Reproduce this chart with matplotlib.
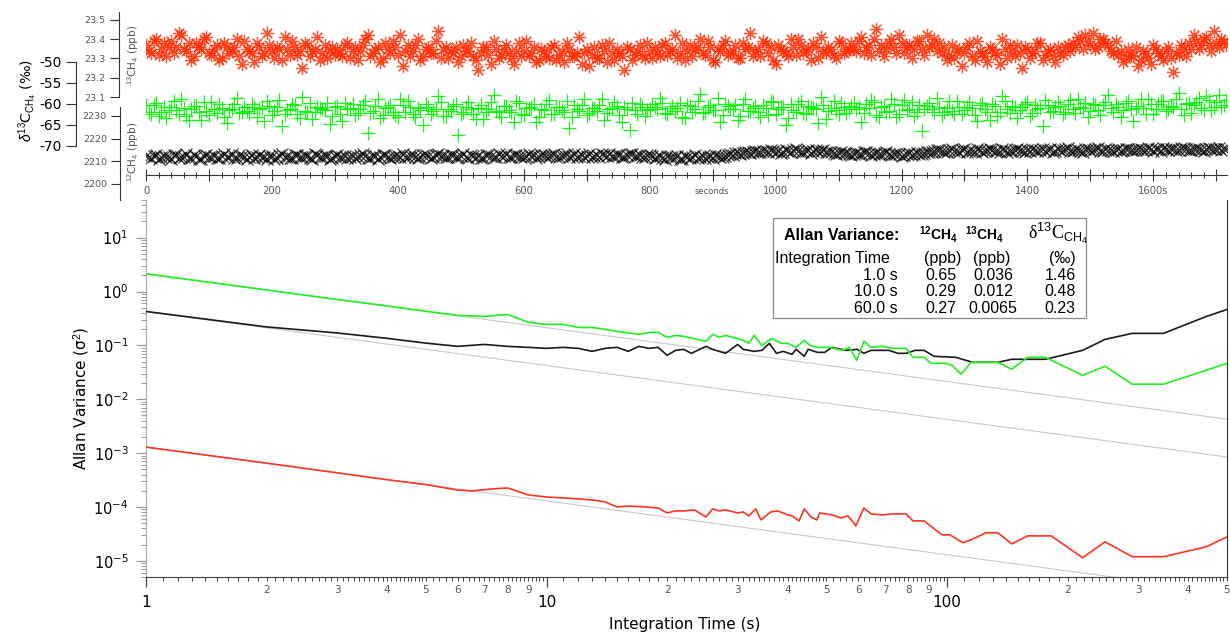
import numpy as np
import matplotlib
matplotlib.use("Agg")
import matplotlib.pyplot as plt
from matplotlib.ticker import FixedLocator, FuncFormatter, LogLocator, MultipleLocator
from matplotlib.patches import Rectangle

W, H = 1230, 636

# ---- time series (sampled every 4 s) ----
T_STEP = 4
c13_ppb = [
    23.37, 23.34, 23.33, 23.39, 23.40, 23.32, 23.35, 23.38, 23.31, 23.36, 23.39, 23.33, 23.36, 23.43,
    23.42, 23.35, 23.34, 23.38, 23.29, 23.31, 23.38, 23.36, 23.35, 23.40, 23.41, 23.33,
    23.32, 23.35, 23.37, 23.29, 23.30, 23.38, 23.36, 23.33, 23.34, 23.36, 23.40, 23.31, 23.27, 23.39,
    23.35, 23.34, 23.33, 23.28, 23.38, 23.36, 23.31, 23.33, 23.43, 23.37, 23.34, 23.30, 23.36, 23.35,
    23.29, 23.41, 23.35, 23.32, 23.39, 23.36, 23.32, 23.34, 23.25, 23.38, 23.37, 23.31, 23.34, 23.35,
    23.41, 23.29, 23.33, 23.37, 23.30, 23.34, 23.36, 23.32,
    23.35, 23.33, 23.31, 23.37, 23.38, 23.30, 23.34, 23.36, 23.29, 23.34, 23.37, 23.40, 23.42, 23.31,
    23.33, 23.35, 23.36, 23.28, 23.30, 23.38, 23.35, 23.33, 23.39, 23.36, 23.32, 23.42, 23.26, 23.34,
    23.37, 23.31, 23.34, 23.37, 23.40, 23.29, 23.31, 23.35, 23.36, 23.33, 23.33, 23.39, 23.44, 23.30,
    23.35, 23.36, 23.30, 23.34,
    23.33, 23.36, 23.28, 23.31, 23.37, 23.34, 23.34, 23.38, 23.31, 23.29, 23.24, 23.33, 23.36, 23.36,
    23.32, 23.27, 23.39, 23.35, 23.30, 23.32, 23.35, 23.37, 23.33, 23.30, 23.27, 23.34, 23.38, 23.31,
    23.34, 23.39, 23.31, 23.33, 23.36, 23.28, 23.29, 23.35,
    23.34, 23.31, 23.30, 23.36, 23.37, 23.29, 23.32, 23.34, 23.28, 23.38, 23.35, 23.31, 23.31, 23.33,
    23.41, 23.27, 23.33, 23.35, 23.26, 23.32, 23.36, 23.30, 23.30, 23.37, 23.34, 23.28, 23.38, 23.33,
    23.29, 23.35, 23.33, 23.31, 23.24, 23.36, 23.35, 23.29, 23.32, 23.34, 23.37, 23.32, 23.30, 23.38,
    23.34, 23.30,
    23.36, 23.33, 23.31, 23.37, 23.38, 23.32, 23.34, 23.35, 23.42, 23.30, 23.33, 23.38, 23.29, 23.34,
    23.37, 23.31, 23.35, 23.36, 23.40, 23.33, 23.32, 23.39, 23.36, 23.29, 23.28, 23.35, 23.34, 23.37,
    23.39, 23.32, 23.33, 23.34, 23.37, 23.30, 23.30, 23.38, 23.35, 23.36, 23.43, 23.31, 23.34, 23.35,
    23.31, 23.39, 23.38, 23.33, 23.36, 23.29, 23.27, 23.37, 23.35, 23.34, 23.33, 23.31, 23.40, 23.36,
    23.32, 23.40, 23.37, 23.33, 23.34, 23.35, 23.29, 23.38, 23.36, 23.30, 23.41, 23.34, 23.33, 23.36,
    23.35, 23.32, 23.30, 23.39, 23.38, 23.33, 23.34, 23.35,
    23.38, 23.35, 23.34, 23.39, 23.41, 23.33, 23.36, 23.37, 23.32, 23.40, 23.45, 23.34, 23.37, 23.31,
    23.35, 23.38, 23.40, 23.36, 23.33, 23.42, 23.38, 23.33, 23.36, 23.37, 23.30, 23.35, 23.39, 23.39,
    23.35, 23.32, 23.42, 23.36, 23.37, 23.40, 23.34, 23.38,
    23.33, 23.36, 23.29, 23.32, 23.37, 23.30, 23.34, 23.35, 23.26, 23.33, 23.36, 23.38, 23.31, 23.29,
    23.39, 23.34, 23.33, 23.31, 23.28, 23.36, 23.35, 23.33, 23.32, 23.27, 23.40, 23.35, 23.30, 23.37,
    23.34, 23.31, 23.37, 23.33, 23.25, 23.36, 23.35, 23.30, 23.33, 23.34, 23.38, 23.38, 23.29, 23.32,
    23.34, 23.35, 23.31, 23.28, 23.36, 23.33, 23.32, 23.36, 23.37, 23.34,
    23.38, 23.36, 23.41, 23.39, 23.35, 23.42, 23.39, 23.37, 23.43, 23.35, 23.36, 23.40, 23.40, 23.38,
    23.37, 23.34, 23.33, 23.39,
    23.32, 23.34, 23.28, 23.30, 23.35, 23.32, 23.31, 23.36, 23.26, 23.29, 23.34, 23.33, 23.30, 23.27,
    23.37, 23.35, 23.33, 23.31, 23.29, 23.34, 23.36, 23.30, 23.23, 23.33, 23.32, 23.37, 23.35, 23.31,
    23.38, 23.35, 23.42, 23.39, 23.35, 23.37, 23.40, 23.41, 23.37, 23.34, 23.44, 23.38, 23.36, 23.40,
    23.39, 23.37]

d13c_permil = [
    -60.2, -61.8, -62.5, -60.3, -59.8, -62.9, -61.9, -60.6, -63.4, -61.4, -60.7, -59.2, -61.5, -62.3,
    -58.9, -61.0, -62.8, -63.7, -61.1, -60.5, -60.4, -61.9, -63.9, -59.6, -61.7, -62.6, -59.5, -61.2,
    -62.2, -60.1, -60.9, -63.0, -64.6, -61.5, -61.3, -59.9, -58.6, -62.1, -62.0, -60.8,
    -61.6, -62.2, -60.1, -60.7, -63.1, -61.3, -61.0, -64.0, -59.3, -60.4, -62.7, -61.7, -60.6, -59.0,
    -65.2, -62.5, -61.4, -61.1, -60.0, -60.2, -62.4, -63.3, -58.4, -61.6, -61.8, -59.7, -63.5, -62.0,
    -60.8, -60.9, -61.2, -61.4, -59.7, -64.8, -62.9, -60.6, -60.5, -62.4, -64.1, -59.8,
    -61.3, -60.9, -59.9, -62.7, -62.1, -61.2, -60.3, -59.4, -66.8, -62.2, -61.6, -60.5, -58.8, -63.4,
    -62.6, -61.0, -60.7, -60.3, -61.9, -62.6, -63.2, -58.9, -60.2, -61.8, -59.4, -60.7, -62.3, -63.1,
    -61.0, -61.5, -64.9, -60.0, -60.6, -62.3, -61.7, -61.1, -58.2, -59.6, -62.8, -62.9,
    -61.1, -61.7, -60.4, -59.9, -67.3, -62.4, -61.8, -60.8, -59.6, -61.3, -62.5, -63.5, -60.9, -60.2,
    -63.6, -62.0, -61.2, -59.5, -57.9, -61.6, -62.0, -63.0, -60.5, -60.4, -61.4, -61.9, -64.3, -59.2,
    -59.8, -62.5, -62.7, -61.0, -61.0, -60.6, -60.1, -64.4, -63.0, -61.2, -61.5, -60.0,
    -59.1, -62.3, -62.4, -60.6, -60.8, -61.4, -61.9, -59.4, -65.6, -63.2, -60.3, -61.1, -61.6, -60.2,
    -58.7, -62.7, -62.2, -60.9, -61.0, -61.7, -60.2, -58.8, -63.8, -62.1, -61.3, -61.0, -59.5, -60.5,
    -62.6, -64.2, -60.7, -61.3, -66.1, -59.8, -61.4, -62.4, -60.0, -60.7, -62.9, -61.5, -61.2, -60.1,
    -60.6, -61.3, -58.5, -59.7, -62.1, -62.4, -60.9, -60.5, -61.7, -61.0, -59.8, -63.1, -63.3, -60.2,
    -60.4, -61.8, -61.2, -59.3, -57.6, -62.2, -62.0, -60.8, -60.3, -61.5, -61.5, -58.6, -64.2, -62.7,
    -59.9, -60.4, -61.1, -61.2, -60.2, -63.8, -62.8, -60.0, -58.9, -61.6, -61.6, -60.9,
    -60.5, -61.9, -63.0, -60.2, -61.0, -62.6, -59.4, -59.6, -62.3, -61.1, -60.8, -60.7, -65.0, -63.3,
    -60.1, -61.4, -61.8, -59.9, -59.2, -62.1, -62.5, -60.5, -60.6, -61.0, -61.3, -64.6, -58.3, -60.3,
    -63.6, -61.7, -60.9, -59.2, -61.5, -62.4, -59.7, -60.8, -62.2, -61.3, -60.4, -59.8,
    -61.1, -60.6, -64.4, -62.2, -60.0, -61.0, -59.1, -59.5, -62.6, -63.0, -60.7, -60.4, -61.9, -61.6,
    -58.8, -60.0, -63.1, -62.5, -60.2, -59.1, -61.4, -61.3, -59.6, -62.8, -62.0, -60.2, -66.4, -61.1,
    -60.5, -59.7, -61.2, -62.0, -58.6, -60.7, -62.7, -61.8, -60.9, -59.4, -61.6, -62.3,
    -59.3, -60.8, -62.4, -61.5, -60.6, -59.6, -61.0, -62.6, -64.0, -60.2, -59.8, -61.1, -61.8, -63.7,
    -60.1, -60.5, -62.9, -61.9, -58.1, -59.3, -61.3, -62.2, -60.4, -60.7, -63.4, -61.4, -60.8, -59.9,
    -59.5, -62.8, -62.1, -60.3, -61.1, -61.0, -65.3, -59.0, -60.3, -62.0, -61.7, -60.6,
    -59.6, -60.4, -62.3, -61.8, -60.0, -59.1, -61.2, -62.1, -58.7, -60.7, -60.9, -59.8, -63.2, -61.6,
    -59.9, -60.3, -61.5, -62.7, -60.2, -59.5, -57.8, -61.0, -62.0, -60.0, -60.6, -63.1, -61.4, -59.7,
    -59.2, -61.3, -64.1, -60.9, -60.5, -58.8, -61.0, -62.4, -58.9, -60.1, -62.4, -61.2,
    -60.1, -59.3, -59.4, -61.7, -61.3, -60.5, -60.7, -58.9, -57.5, -61.2, -62.6, -60.0, -59.7, -62.1,
    -60.3, -59.6, -58.6, -60.9, -61.5, -58.2, -59.0, -61.4, -60.8, -59.5, -57.9, -60.7, -60.2, -59.1]

c12_ppb = [
    2212.4, 2211.7, 2211.3, 2212.5, 2212.8, 2211.2, 2211.9, 2212.3, 2212.1, 2211.9, 2210.9, 2212.8,
    2212.6, 2211.4, 2211.7, 2212.1, 2213.0, 2211.6, 2211.5, 2212.7, 2212.2, 2211.0, 2211.1, 2212.4,
    2212.9, 2211.8, 2212.0, 2212.2, 2211.4, 2211.3, 2212.5, 2213.0, 2211.8, 2211.9, 2213.2, 2211.5,
    2211.6, 2212.6, 2212.3, 2211.8,
    2211.2, 2212.1, 2212.7, 2211.5, 2211.9, 2212.9, 2212.1, 2211.7, 2210.8, 2212.3, 2212.4, 2211.1,
    2211.6, 2212.6, 2213.1, 2212.0, 2212.0, 2211.4, 2211.3, 2212.8, 2212.6, 2211.9, 2211.8, 2212.2,
    2212.2, 2211.6, 2211.0, 2213.0, 2212.9, 2211.8, 2211.7, 2212.4, 2212.3, 2211.2, 2211.5, 2212.5,
    2212.8, 2211.7, 2212.0, 2212.3,
    2211.4, 2212.0, 2212.5, 2211.6, 2211.9, 2212.7, 2213.0, 2212.2, 2211.6, 2211.3, 2212.2, 2212.5,
    2211.1, 2211.9, 2212.7, 2212.8, 2212.0, 2211.5, 2211.8, 2212.3, 2212.4, 2212.0, 2213.1, 2211.7,
    2211.9, 2212.9, 2212.6, 2212.1, 2211.5, 2211.8, 2212.9, 2212.6, 2212.2, 2211.4, 2211.7, 2212.7,
    2213.3, 2212.2, 2212.4, 2211.9,
    2211.8, 2212.6, 2212.7, 2211.9, 2212.1, 2212.4, 2213.0, 2211.7, 2211.6, 2212.9, 2212.5, 2212.1,
    2212.3, 2211.6, 2211.4, 2212.8, 2212.9, 2212.3, 2212.0, 2211.8, 2213.2, 2212.5, 2212.2, 2213.0,
    2211.7, 2212.0, 2212.8, 2212.6, 2212.4, 2211.9, 2211.9, 2212.4, 2213.1, 2212.2, 2212.6, 2211.5,
    2212.0, 2212.7, 2212.9, 2212.3,
    2212.3, 2212.8, 2213.2, 2212.1, 2212.0, 2212.5, 2212.7, 2213.1, 2211.8, 2212.3, 2213.4, 2212.0,
    2212.5, 2212.9, 2212.1, 2212.4, 2213.0, 2211.8, 2212.4, 2212.7, 2211.9, 2213.2, 2212.8, 2212.2,
    2213.3, 2212.5, 2212.2, 2212.9, 2212.6, 2212.0, 2211.7, 2212.6, 2213.1, 2213.0, 2212.5, 2212.3,
    2212.9, 2211.9, 2212.0, 2212.7, 2212.7, 2212.4,
    2211.6, 2212.0, 2212.4, 2211.4, 2211.2, 2212.3, 2212.1, 2211.7, 2211.8, 2212.5, 2210.9, 2211.2,
    2212.3, 2212.1, 2211.5, 2211.8, 2212.6, 2211.5, 2211.9, 2212.4, 2211.3, 2211.9, 2212.2, 2211.6,
    2212.8, 2212.3, 2211.7, 2212.0, 2212.5, 2212.6,
    2213.1, 2212.9, 2213.8, 2213.5, 2213.4, 2213.6, 2214.2, 2213.9, 2213.6, 2214.0, 2214.7, 2214.3,
    2213.9, 2214.4, 2214.4, 2214.1, 2215.0, 2214.6, 2214.1, 2214.5, 2213.7, 2214.2, 2214.8, 2214.4,
    2214.3, 2214.9, 2215.2, 2214.6, 2214.0, 2214.3, 2214.6, 2214.9, 2213.8, 2214.4, 2215.1, 2214.6,
    2214.5, 2214.8, 2214.2, 2214.1,
    2213.9, 2213.6, 2213.2, 2213.5, 2214.1, 2213.7, 2213.5, 2213.0, 2212.9, 2213.4, 2213.8, 2213.2,
    2213.3, 2213.9, 2214.0, 2213.5, 2212.7, 2213.1, 2213.6, 2213.3, 2213.1, 2213.6, 2213.9, 2213.4,
    2212.8, 2213.0, 2213.4, 2213.1, 2212.5, 2212.8, 2213.2, 2213.5, 2212.9, 2213.3, 2213.7, 2213.2,
    2213.0, 2213.6, 2214.0, 2213.9,
    2214.3, 2214.6, 2215.1, 2214.8, 2214.7, 2214.2, 2214.0, 2215.0, 2215.3, 2214.7, 2214.5, 2214.3,
    2214.9, 2215.2, 2213.9, 2214.5, 2214.6, 2214.1, 2215.4, 2214.9, 2214.2, 2214.6, 2214.8, 2215.3,
    2215.0, 2214.7, 2214.4, 2214.0, 2215.6, 2214.8, 2214.1, 2214.5, 2214.7, 2215.1, 2215.2, 2214.8,
    2214.5, 2214.3, 2214.9, 2214.7,
    2215.2, 2214.9, 2214.4, 2215.1, 2215.5, 2214.6, 2214.8, 2215.2, 2214.1, 2214.5, 2215.3, 2214.8,
    2214.9, 2215.4, 2215.7, 2214.6, 2214.6, 2215.1, 2215.0, 2214.7, 2214.3, 2215.3, 2215.4, 2214.9,
    2214.8, 2215.5, 2215.9, 2214.4, 2214.7, 2215.2, 2215.1, 2214.8, 2214.5, 2215.0, 2215.6, 2214.6,
    2214.9, 2215.3, 2215.2, 2214.9,
    2214.8, 2215.1, 2215.5, 2215.3, 2215.0, 2214.9, 2215.8, 2215.5, 2214.6, 2215.2, 2215.3, 2214.7,
    2215.9, 2215.6, 2214.9, 2215.3, 2215.4, 2215.0, 2215.1, 2215.7, 2216.0, 2215.4, 2214.8, 2215.1,
    2215.6, 2215.3, 2215.2, 2214.9, 2214.7, 2215.5, 2215.7, 2215.2, 2215.3, 2215.6, 2215.9, 2215.0,
    2215.4, 2215.5]

# ---- Allan variance curves ----
tau_d = [1, 2, 3, 4, 5, 6, 7, 8, 9, 10, 11, 12, 13, 14, 15, 17, 18, 19, 20, 21, 22, 25, 26, 27, 28,
         31, 32, 33, 34.5, 36.5, 38.5, 40, 42, 44, 45.5, 47.5, 50.7, 55, 57, 59.5, 62, 64.6, 68.8, 72.9,
         79, 82.2, 87.6, 91.2, 98.9, 102.9, 108.4, 114.8, 134, 145, 159, 176, 218, 248, 290, 347, 444, 500]
av_d = [2.13, 1.07, 0.71, 0.54, 0.43, 0.36, 0.344, 0.375, 0.267, 0.245, 0.245, 0.215, 0.215, 0.198,
        0.182, 0.16, 0.174, 0.174, 0.141, 0.153, 0.147, 0.119, 0.16, 0.141, 0.153, 0.124, 0.109, 0.153,
        0.1, 0.135, 0.109, 0.109, 0.0918, 0.124, 0.1, 0.0918, 0.0918, 0.0808, 0.0918, 0.0528, 0.119,
        0.0918, 0.0958, 0.088, 0.088, 0.06, 0.06, 0.0464, 0.0464, 0.0426, 0.029, 0.0484, 0.0484, 0.036,
        0.06, 0.06, 0.0278, 0.0408, 0.019, 0.019, 0.0345, 0.0464]

tau_12 = [1, 2, 3, 4, 5, 6, 7, 8, 9, 10, 11, 12, 13, 14, 15, 16, 17, 18, 19, 20, 21, 22, 23, 25, 26,
          28, 30, 31, 33, 34.5, 36, 37.5, 39, 41, 42, 44, 45, 47.5, 49.5, 51.6, 56, 59.6, 62, 64.6, 71.6,
          75.4, 79, 83.2, 87.6, 92.8, 105, 116, 134, 145, 176, 218, 248, 290, 347, 444, 500]
av_12 = [0.426, 0.22, 0.17, 0.135, 0.11, 0.096, 0.104, 0.0958, 0.0918, 0.088, 0.0918, 0.088, 0.0774,
         0.088, 0.0918, 0.0774, 0.0958, 0.088, 0.0918, 0.0653, 0.0808, 0.0843, 0.0711, 0.0958, 0.0843,
         0.0711, 0.104, 0.0843, 0.0774, 0.0808, 0.109, 0.0711, 0.0774, 0.0681, 0.0843, 0.0626, 0.0843,
         0.0742, 0.0742, 0.0918, 0.0808, 0.0843, 0.0711, 0.0808, 0.0808, 0.0711, 0.0711, 0.0808, 0.0808,
         0.0626, 0.06, 0.0484, 0.0484, 0.0551, 0.0551, 0.0808, 0.129, 0.167, 0.167, 0.344, 0.464]

tau_13 = [1, 2, 3, 4, 5, 6, 6.5, 7.3, 8, 9, 10, 11, 12, 13, 14, 15, 16, 17.5, 19, 20, 21, 22, 23.4, 25,
          26, 27, 28, 30, 31, 32, 33.3, 34.3, 36.3, 37.8, 40, 41, 42.7, 44, 45.7, 47.3, 48.1, 51.6, 54.3,
          56.6, 59.2, 62, 64.6, 68.8, 72.9, 79, 82.2, 87.6, 97.2, 101.7, 109.6, 116, 125, 134, 145, 159,
          182, 218, 248, 290, 347, 444, 500]
av_13 = [1.29e-3, 6.5e-4, 4.3e-4, 3.2e-4, 2.6e-4, 2.06e-4, 1.98e-4, 2.16e-4, 2.25e-4, 1.67e-4, 1.53e-4,
         1.47e-4, 1.41e-4, 1.35e-4, 1.24e-4, 1.0e-4, 1.04e-4, 1.0e-4, 9.58e-5, 7.74e-5, 8.43e-5, 8.43e-5,
         8.8e-5, 6.53e-5, 9.18e-5, 8.43e-5, 8.8e-5, 7.74e-5, 8.08e-5, 6.81e-5, 9.18e-5, 5.74e-5, 8.08e-5,
         8.43e-5, 7.11e-5, 6.81e-5, 5.5e-5, 9.18e-5, 6.53e-5, 5.74e-5, 7.74e-5, 7.11e-5, 6.26e-5, 6.81e-5,
         4.45e-5, 9.58e-5, 7.42e-5, 7.11e-5, 7.42e-5, 7.42e-5, 5.5e-5, 5.5e-5, 3.03e-5, 3.03e-5, 2.16e-5,
         2.55e-5, 3.3e-5, 3.3e-5, 2.06e-5, 2.9e-5, 2.9e-5, 1.14e-5, 2.25e-5, 1.19e-5, 1.19e-5, 1.82e-5,
         2.78e-5]

# ---- table ----
int_times = [1.0, 10.0, 60.0]
sd_12 = [0.65, 0.29, 0.27]
sd_13 = [0.036, 0.012, 0.0065]
sd_d = [1.46, 0.48, 0.23]

RED = "#ff2a00"
GREEN = "#00f000"


def fbox(l, t, r, b):
    return [l / W, 1 - b / H, (r - l) / W, (b - t) / H]


def fx(x):
    return x / W


def fy(y):
    return 1 - y / H


plt.rcParams["font.family"] = "DejaVu Sans"
plt.rcParams["axes.unicode_minus"] = False
plt.rcParams["axes.linewidth"] = 0.8
plt.rcParams["mathtext.fontset"] = "custom"
plt.rcParams["mathtext.rm"] = "Liberation Sans"
plt.rcParams["mathtext.it"] = "Liberation Sans:italic"
plt.rcParams["mathtext.bf"] = "Liberation Sans:bold"
plt.rcParams["mathtext.sf"] = "Liberation Sans"

fig = plt.figure(figsize=(W / 100, H / 100), dpi=100)

# ================= top panel: time series =================
top_box = fbox(146, 5, 1227, 200)
ax13 = fig.add_axes(top_box)
ax12 = fig.add_axes(top_box)
axd = fig.add_axes(top_box)

for a in (ax13, ax12, axd):
    a.patch.set_visible(False)
    a.spines["top"].set_visible(False)
    a.spines["right"].set_visible(False)
    a.set_xlim(0, 1717)
    a.spines["left"].set_color("#333")
for a in (ax12, axd):
    a.spines["bottom"].set_visible(False)
    a.tick_params(axis="x", which="both", bottom=False, labelbottom=False)

t13 = np.arange(len(c13_ppb)) * T_STEP
t12 = np.arange(len(c12_ppb)) * T_STEP
td = np.arange(len(d13c_permil)) * T_STEP

ax13.plot(t13, c13_ppb, ls="none", marker=(8, 2, 0), ms=9.5, mew=0.9, color=RED, alpha=0.8)
axd.plot(td, d13c_permil, ls="none", marker="+", ms=10, mew=0.9, color=GREEN, alpha=0.9)
ax12.plot(t12, c12_ppb, ls="none", marker="x", ms=8, mew=0.9, color="black", alpha=0.75)

# x axis of the top panel
ax13.spines["bottom"].set_position(("axes", 25 / 195))
ax13.spines["bottom"].set_color("#333")
ax13.xaxis.set_major_locator(FixedLocator(np.arange(0, 1701, 100)))
ax13.xaxis.set_minor_locator(MultipleLocator(20))


def top_xfmt(v, pos):
    v = int(round(v))
    if v % 200:
        return ""
    return "1600s" if v == 1600 else str(v)


ax13.xaxis.set_major_formatter(FuncFormatter(top_xfmt))
ax13.tick_params(axis="x", which="major", direction="inout", length=8, width=0.8, color="#333",
                 labelsize=7.2, labelcolor="#555", pad=4)
ax13.tick_params(axis="x", which="minor", direction="inout", length=4, width=0.7, color="#333")
fig.text(fx(712), fy(192), "seconds", fontsize=6, color="#555", ha="center", va="center")

# 13CH4 axis
ax13.set_ylim(22.566, 23.577)
ax13.set_yticks([23.1, 23.2, 23.3, 23.4, 23.5])
ax13.yaxis.set_major_formatter(FuncFormatter(lambda v, p: f"{v:.1f}"))
ax13.spines["left"].set_bounds(23.1, 23.54)
ax13.spines["left"].set_position(("outward", 19.4))
ax13.tick_params(axis="y", length=6.5, width=0.8, color="#333", labelsize=6.8, labelcolor="#555", pad=3)

# 12CH4 axis
ax12.set_ylim(2192.9, 2279.0)
ax12.set_yticks([2200, 2210, 2220, 2230])
ax12.spines["left"].set_bounds(2192.9, 2234.0)
ax12.spines["left"].set_position(("outward", 18.7))
ax12.tick_params(axis="y", length=6.5, width=0.8, color="#333", labelsize=6.8, labelcolor="#555", pad=3)

# delta axis
axd.set_ylim(-82.86, -36.43)
axd.set_yticks([-70, -65, -60, -55, -50])
axd.spines["left"].set_bounds(-70, -50)
axd.spines["left"].set_position(("outward", 50.4))
axd.tick_params(axis="y", length=7.5, width=0.8, color="#333", labelsize=10, labelcolor="black", pad=3)

fig.text(fx(133), fy(55), r"$^{13}$CH$_4$ (ppb)", rotation=90, ha="center", va="center",
         fontsize=7.5, color="#555")
fig.text(fx(133), fy(152), r"$^{12}$CH$_4$ (ppb)", rotation=90, ha="center", va="center",
         fontsize=7.5, color="#555")
fig.text(fx(28), fy(100), r"$\delta^{13}$C$_{\mathrm{CH_4}}$ (‰)", rotation=90, ha="center",
         va="center", fontsize=10)

# ================= bottom panel: Allan variance =================
axb = fig.add_axes(fbox(146, 200, 1227, 577))
axb.set_xscale("log")
axb.set_yscale("log")
axb.set_xlim(1, 500)
axb.set_ylim(5e-6, 50)
axb.spines["top"].set_visible(False)
axb.spines["right"].set_color("#333")
axb.spines["left"].set_color("#aaa")
axb.spines["bottom"].set_color("#444")

# white-noise reference lines (1/tau) from the 1 s values
for sd in (sd_d[0], sd_12[0], sd_13[0]):
    axb.plot([1, 500], [sd ** 2, sd ** 2 / 500], color="#c8c8c8", lw=0.8, zorder=1)

axb.plot(tau_12, av_12, color="#1a1a1a", lw=1.2, zorder=3)
axb.plot(tau_d, av_d, color="#22ee22", lw=1.2, zorder=3)
axb.plot(tau_13, av_13, color="#ff3322", lw=1.2, zorder=3)

# x ticks
axb.xaxis.set_major_locator(FixedLocator([1, 10, 100]))
axb.xaxis.set_major_formatter(FuncFormatter(lambda v, p: f"{v:g}"))
fine = []
for dec in (1, 10, 100):
    for m in np.concatenate([np.arange(1.1, 5.0, 0.1), np.arange(5.0, 9.9, 0.2)]):
        if dec * m <= 500.001:
            fine.append(dec * m)
axb.xaxis.set_minor_locator(FixedLocator(fine))


def minor_xfmt(v, pos):
    m = v / 10 ** np.floor(np.log10(v) + 1e-9)
    if abs(m - round(m)) < 1e-6 and 2 <= round(m) <= 9:
        return str(int(round(m)))
    return ""


axb.xaxis.set_minor_formatter(FuncFormatter(minor_xfmt))
axb.tick_params(axis="x", which="major", length=7, width=0.9, color="#444", labelsize=11, pad=6)
axb.tick_params(axis="x", which="minor", length=3, width=0.7, color="#444", labelsize=7.5,
                labelcolor="#555", pad=3)

# y ticks
axb.yaxis.set_major_locator(LogLocator(base=10, numticks=20))
axb.yaxis.set_minor_locator(LogLocator(base=10, subs=np.arange(2, 10), numticks=20))
axb.tick_params(axis="y", which="major", length=7.5, width=0.9, color="#999", labelsize=10.5, pad=5)
axb.tick_params(axis="y", which="minor", length=3.5, width=0.7, color="#999")

fig.text(fx(685), fy(625), "Integration Time (s)", fontsize=11, ha="center", va="center")
fig.text(fx(82), fy(398), "Allan Variance (σ$^2$)", rotation=90, fontsize=11, ha="center", va="center")

# ================= table =================
fig.add_artist(Rectangle((fx(773), fy(318)), fx(1086) - fx(773), fy(218) - fy(318),
                         transform=fig.transFigure, fill=False, ec="#888", lw=0.9))
tf = dict(family="Liberation Sans", fontsize=11.5, va="center")
fig.text(fx(784), fy(235), "Allan Variance:", fontweight="bold", ha="left", **tf)
fig.text(fx(938), fy(234), r"$\mathbf{^{12}CH_4}$", ha="center", fontsize=10, va="center")
fig.text(fx(984), fy(234), r"$\mathbf{^{13}CH_4}$", ha="center", fontsize=10, va="center")
fig.text(fx(1058), fy(233), r"δ$^{13}$C$_{\mathrm{CH_4}}$", family="Liberation Serif", ha="center",
         fontsize=13, va="center")
fig.text(fx(775), fy(258), "Integration Time", ha="left", **tf)
fig.text(fx(943), fy(258), "(ppb)", ha="center", **tf)
fig.text(fx(992), fy(258), "(ppb)", ha="center", **tf)
fig.text(fx(1062), fy(258), "(‰)", ha="center", **tf)
for i, (it, a, b, c) in enumerate(zip(int_times, sd_12, sd_13, sd_d)):
    y = 275 + i * 16.7
    fig.text(fx(898), fy(y), f"{it:.1f} s", ha="right", **tf)
    fig.text(fx(941), fy(y), str(a), ha="center", **tf)
    fig.text(fx(993), fy(y), str(b), ha="center", **tf)
    fig.text(fx(1060), fy(y), str(c), ha="center", **tf)

fig.savefig("out.png", dpi=100)
